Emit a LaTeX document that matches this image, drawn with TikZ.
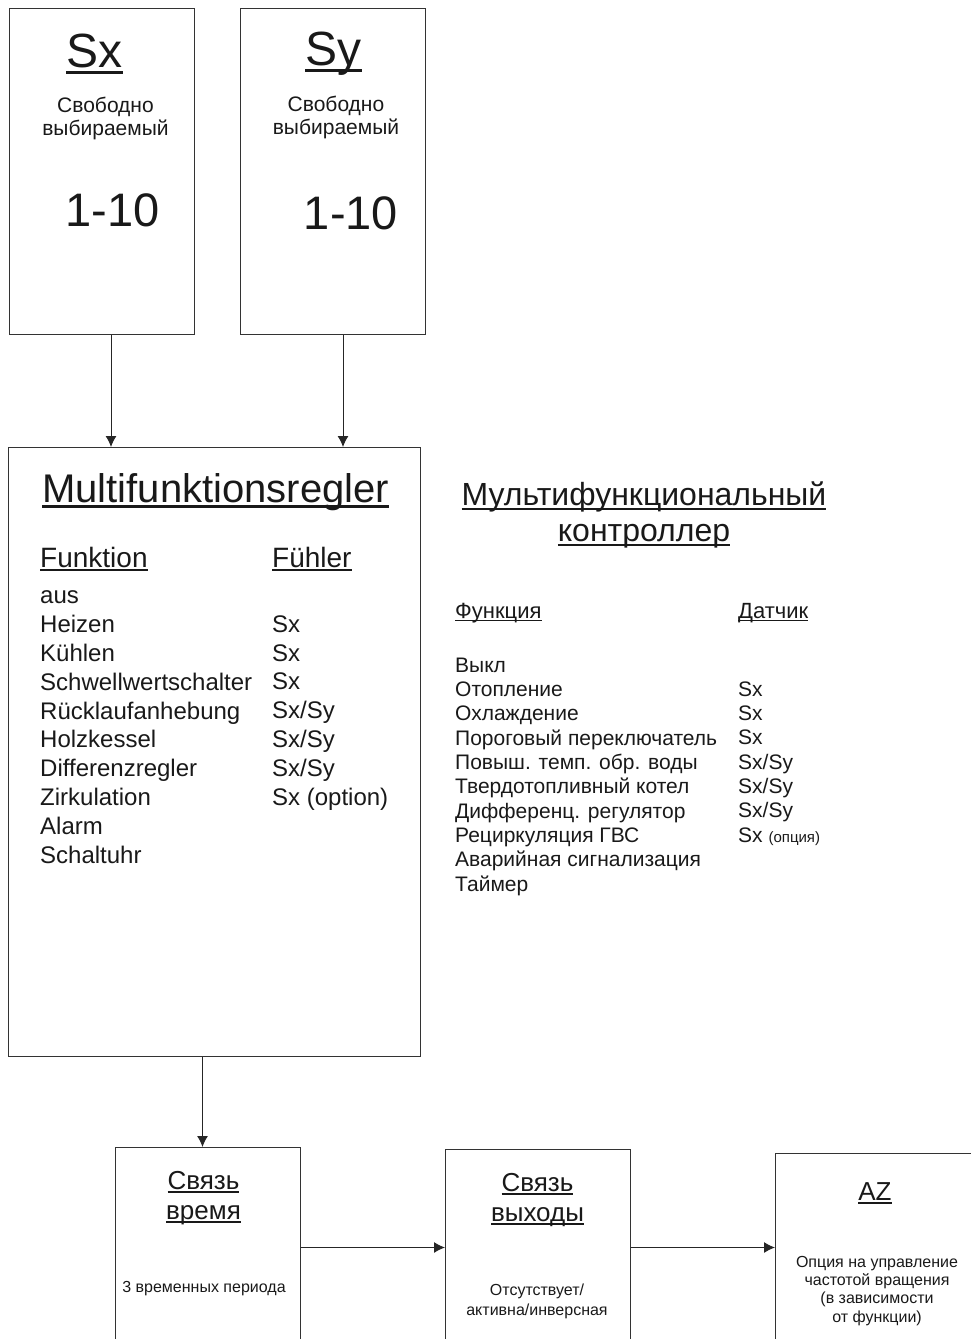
\documentclass[tikz,border=0pt]{standalone}
\usepackage{fontspec}
\setmainfont{Liberation Sans}
\usetikzlibrary{arrows.meta,positioning}

\newcommand\ulx[1]{\setbox0=\hbox{#1}\rlap{\rule[-0.15em]{\wd0}{0.07em}}\box0}
\newcommand\fsz[2]{\fontsize{#1}{#2}\selectfont}

\begin{document}
\begin{tikzpicture}[
x=1pt,y=-1pt,
box/.style={draw=black!80,line width=1pt,anchor=north west,inner sep=0pt},
lbl/.style={inner sep=0pt,anchor=base,align=center,text=black!90},
lst/.style={inner sep=0pt,anchor=base west,align=left,text=black!90},
t/.style={-{Latex[length=11pt,width=11pt]},line width=1pt,black!85}
]
\useasboundingbox (0,0) rectangle (971,1339);
\clip (0,0) rectangle (971,1339);

% sensor boxes (text nodes sit on the baseline of their last line)
\node[box,minimum width=185pt,minimum height=326pt] (sx) at (9,8) {};
\node[box,minimum width=185pt,minimum height=326pt] (sy) at (240,8) {};
\node[lbl,font=\fsz{48}{52}] (sxname) at (94.5,67) {\ulx{Sx}};
\node[lbl,font=\fsz{21}{23}] (sxinfo) at (105.5,135) {Свободно\\выбираемый};
\node[lbl,font=\fsz{47}{50}] (sxrange) at (112.5,226) {1-10};
\node[lbl,font=\fsz{48}{52}] (syname) at (333.5,65) {\ulx{Sy}};
\node[lbl,font=\fsz{21}{23}] (syinfo) at (336,134) {Свободно\\выбираемый};
\node[lbl,font=\fsz{47}{50}] (syrange) at (351,229) {1-10};

% controller
\node[box,minimum width=412pt,minimum height=609pt] (mfr) at (8,447) {};
\node[lst,font=\fsz{40}{44}] (mfrname) at (42,502) {\ulx{Multifunktionsregler}};
\node[lst,font=\fsz{28}{30}] (funkhd) at (40,567) {\ulx{Funktion}};
\node[lst,font=\fsz{28}{30}] (fuehlhd) at (272,567) {\ulx{Fühler}};
\node[lst,font=\fsz{24}{28.8}] (funk) at (40,863)
  {aus\\Heizen\\Kühlen\\Schwellwertschalter\\Rücklaufanhebung\\Holzkessel\\Differenzregler\\Zirkulation\\Alarm\\Schaltuhr};
\node[lst,font=\fsz{24}{28.8}] (fuehl) at (272,805)
  {Sx\\Sx\\Sx\\Sx/Sy\\Sx/Sy\\Sx/Sy\\Sx (option)};

% russian legend
\node[lbl,font=\fsz{32}{36}] (rutitle) at (644,541) {\ulx{Мультифункциональный}\\\ulx{контроллер}};
\node[lst,font=\fsz{22}{24}] (ruhd1) at (455,618) {\ulx{Функция}};
\node[lst,font=\fsz{22}{24}] (ruhd2) at (738,618) {\ulx{Датчик}};
\node[lst,font=\fsz{21}{24.3}] (rufunk) at (455,891)
  {Выкл\\Отопление\\Охлаждение\\Пороговый переключатель\\Повыш. темп. обр. воды\\Твердотопливный котел\\Дифференц. регулятор\\Рециркуляция ГВС\\Аварийная сигнализация\\Таймер};
\node[lst,font=\fsz{21}{24.3}] (rusens) at (738,842)
  {Sx\\Sx\\Sx\\Sx/Sy\\Sx/Sy\\Sx/Sy\\Sx {\fsz{15}{16}(опция)}};

% output chain
\node[box,minimum width=185pt,minimum height=200pt] (time) at (115,1147) {};
\node[box,minimum width=185pt,minimum height=196pt] (outp) at (445,1149) {};
\node[box,minimum width=215pt,minimum height=188pt] (az) at (775,1153) {};
\node[lbl,font=\fsz{26}{30}] (timename) at (203.5,1219) {\ulx{Связь}\\\ulx{время}};
\node[lbl,font=\fsz{16}{18}] (timeinfo) at (204,1292) {3 временных периода};
\node[lbl,font=\fsz{26}{30}] (outpname) at (537.5,1221) {\ulx{Связь}\\\ulx{выходы}};
\node[lbl,font=\fsz{16}{20}] (outpinfo) at (537,1315) {Отсутствует/\\активна/инверсная};
\node[lbl,font=\fsz{26}{30}] (azname) at (875,1200) {\ulx{AZ}};
\node[lbl,font=\fsz{16}{18.3}] (azinfo) at (877,1322)
  {Опция на управление\\частотой вращения\\(в зависимости\\от функции)};

\draw[t] ([xshift=9pt]sx.south) -- ([xshift=9pt]sx.south |- mfr.north);
\draw[t] ([xshift=10pt]sy.south) -- ([xshift=10pt]sy.south |- mfr.north);
\draw[t] ([xshift=-12pt]mfr.south) -- ([xshift=-12pt]mfr.south |- time.north);
\draw[t] (time.east) -- (outp.west);
\draw[t] (outp.east) -- (az.west);
\end{tikzpicture}
\end{document}
